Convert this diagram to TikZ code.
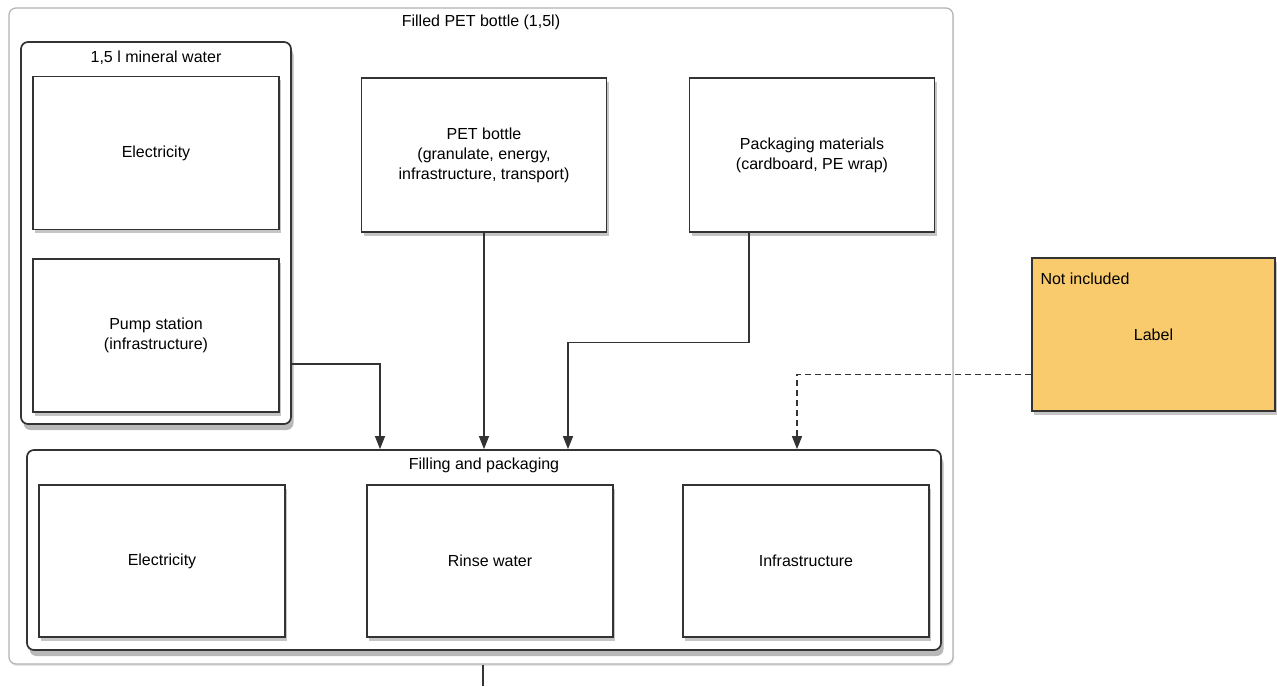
\documentclass[tikz,border=0pt]{standalone}
\usepackage{fontspec}
\setmainfont{Liberation Sans}
\usetikzlibrary{arrows.meta,shadows}

\definecolor{notincl}{HTML}{F9CB6C}
\definecolor{edge}{HTML}{333333}

\tikzset{
  box/.style={draw=edge, line width=1.4pt, fill=white, align=center,
    minimum width=246pt, minimum height=153pt, inner sep=0pt,
    drop shadow={shadow xshift=2pt, shadow yshift=-3.5pt, opacity=0.45}},
  frame/.style={draw=edge, line width=1.7pt, fill=white, rounded corners=7pt, inner sep=0pt,
    drop shadow={shadow xshift=2.5pt, shadow yshift=-6pt, opacity=0.55}},
  title/.style={below, yshift=-5pt},
  arrow/.style={draw=edge, line width=1.3pt, -{Triangle[width=10pt,length=13pt]}},
}

\begin{document}
\begin{tikzpicture}[x=1pt, y=-1pt, font=\fontsize{16}{20}\selectfont]
\useasboundingbox (0,0) rectangle (1277,686);
%outer frame
\node[draw=black!30, line width=1.2pt, rounded corners=7pt, minimum width=944pt, minimum height=656pt,
  drop shadow={shadow xshift=1pt, shadow yshift=-2pt, opacity=0.2}, fill=white] (outer) at (481,336) {};
\node[title, yshift=1pt] (outerlbl) at (outer.north) {Filled PET bottle (1,5l)};
%mineral water
\node[frame, minimum width=270pt, minimum height=382pt] (water) at (156,233) {};
\node[title, yshift=-1pt] (waterlbl) at (water.north) {1,5 l mineral water};
\node[box] (elecA) at (156,153) {Electricity};
\node[box] (pump) at (156,335.5) {Pump station\\(infrastructure)};
%inputs
\node[box, minimum width=245pt, minimum height=154pt] (pet) at (484,155) {PET bottle\\(granulate, energy,\\infrastructure, transport)};
\node[box, minimum width=245pt, minimum height=154pt] (pack) at (812,155) {Packaging materials\\(cardboard, PE wrap)};
%not included
\node[box, fill=notincl, minimum width=243pt, drop shadow={opacity=0}] (notinc) at (1153.5,334.5) {Label};
\node[anchor=north west, inner sep=0pt] (notinclbl) at ([xshift=9pt, yshift=-15pt]notinc.north west) {Not included};
%filling and packaging
\node[frame, minimum width=914pt, minimum height=200pt] (fill) at (484,550) {};
\node[title] (filllbl) at (fill.north) {Filling and packaging};
\node[box, minimum height=152pt] (elecB) at (162,561) {Electricity};
\node[box, minimum height=152pt] (rinse) at (490,561) {Rinse water};
\node[box, minimum height=152pt] (infra) at (806,561) {Infrastructure};
%arrows
\draw[arrow] ([yshift=-131pt]water.east) -| ([xshift=-104pt]fill.north);
\draw[arrow] (pet.south) -- (pet.south |- fill.north);
\draw[arrow] ([xshift=-63pt]pack.south) -- ++(0,110) -| ([xshift=84pt]fill.north);
\draw[arrow, dash pattern=on 6pt off 4pt] ([yshift=-40pt]notinc.west) -| ([xshift=313pt]fill.north);
%exit
\coordinate (exit) at (483,686);
\draw[draw=edge, line width=1.2pt] (exit |- outer.south) -- (exit);
\end{tikzpicture}
\end{document}
